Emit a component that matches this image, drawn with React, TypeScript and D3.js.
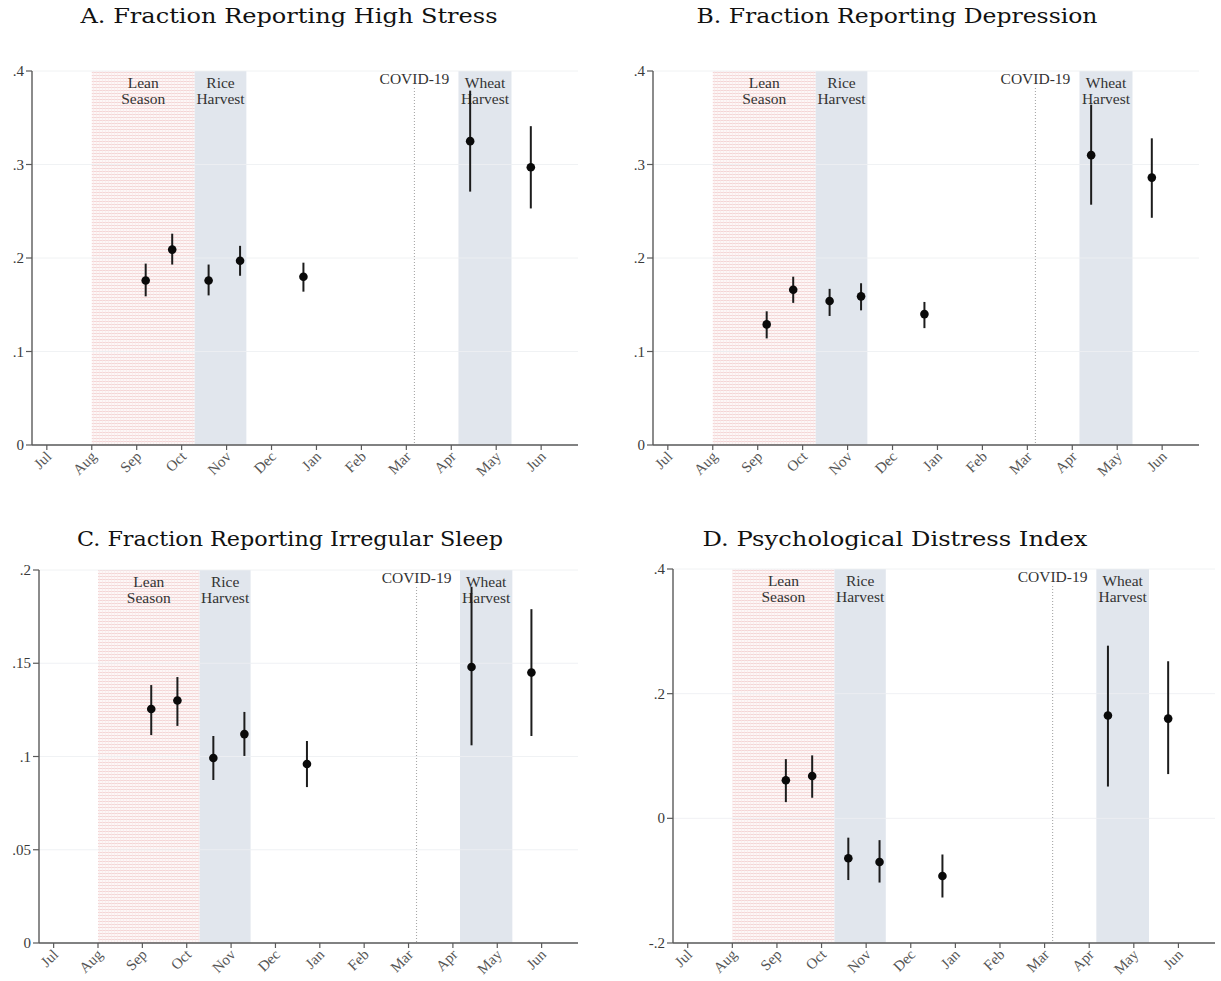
import React from "react";
import * as d3 from "d3";

// Month axis: 0 = Jul ... 11 = Jun
const monthLabels = ["Jul", "Aug", "Sep", "Oct", "Nov", "Dec", "Jan", "Feb", "Mar", "Apr", "May", "Jun"];

// Survey round dates in month units
const roundMonths = [2.2, 2.79, 3.6, 4.3, 5.71, 9.42, 10.77];

// Seasonal windows and event date (month units)
const leanSeason = [1.0, 3.29];
const riceHarvest = [3.29, 4.44];
const wheatHarvest = [9.16, 10.34];
const covidDate = 8.18;

// Panel A: high stress
const stressEst = [0.176, 0.209, 0.176, 0.197, 0.18, 0.325, 0.297];
const stressLo = [0.159, 0.193, 0.16, 0.181, 0.164, 0.271, 0.253];
const stressHi = [0.194, 0.226, 0.193, 0.213, 0.195, 0.379, 0.341];

// Panel B: depression
const deprEst = [0.129, 0.166, 0.154, 0.159, 0.14, 0.31, 0.286];
const deprLo = [0.114, 0.152, 0.138, 0.144, 0.125, 0.257, 0.243];
const deprHi = [0.143, 0.18, 0.167, 0.173, 0.153, 0.364, 0.328];

// Panel C: irregular sleep
const sleepEst = [0.1255, 0.13, 0.0992, 0.112, 0.096, 0.148, 0.145];
const sleepLo = [0.1115, 0.1164, 0.0874, 0.1003, 0.0836, 0.106, 0.111];
const sleepHi = [0.1383, 0.1426, 0.111, 0.1239, 0.1083, 0.191, 0.179];

// Panel D: distress index
const distressEst = [0.061, 0.068, -0.064, -0.07, -0.0925, 0.165, 0.16];
const distressLo = [0.026, 0.033, -0.099, -0.103, -0.127, 0.051, 0.071];
const distressHi = [0.095, 0.101, -0.031, -0.035, -0.058, 0.277, 0.252];

const ticksAB = [0, 0.1, 0.2, 0.3, 0.4];
const ticksC = [0, 0.05, 0.1, 0.15, 0.2];
const ticksD = [-0.2, 0, 0.2, 0.4];

const stataFmt = (v: number) => {
  if (Math.abs(v) < 1e-9) return "0";
  const s = String(+v.toFixed(3));
  return s.replace(/^0\./, ".").replace(/^-0\./, "-.");
};

type PanelSpec = {
  id: string;
  title: string;
  titleX: number;
  titleY: number;
  titleW: number;
  left: number;
  right: number;
  top: number;
  bottom: number;
  yDomain: [number, number];
  yTicks: number[];
  est: number[];
  lo: number[];
  hi: number[];
};

const panels: PanelSpec[] = [
  {
    id: "a", title: "A. Fraction Reporting High Stress", titleX: 289, titleY: 23, titleW: 417,
    left: 32, right: 578, top: 71, bottom: 445, yDomain: [0, 0.4], yTicks: ticksAB,
    est: stressEst, lo: stressLo, hi: stressHi,
  },
  {
    id: "b", title: "B. Fraction Reporting Depression", titleX: 897, titleY: 23, titleW: 401,
    left: 653, right: 1199, top: 71, bottom: 445, yDomain: [0, 0.4], yTicks: ticksAB,
    est: deprEst, lo: deprLo, hi: deprHi,
  },
  {
    id: "c", title: "C. Fraction Reporting Irregular Sleep", titleX: 290, titleY: 546, titleW: 426,
    left: 39, right: 578, top: 570, bottom: 943, yDomain: [0, 0.2], yTicks: ticksC,
    est: sleepEst, lo: sleepLo, hi: sleepHi,
  },
  {
    id: "d", title: "D. Psychological Distress Index", titleX: 895, titleY: 546, titleW: 385,
    left: 673, right: 1215, top: 569, bottom: 943, yDomain: [-0.2, 0.4], yTicks: ticksD,
    est: distressEst, lo: distressLo, hi: distressHi,
  },
];

const TITLE_FONT = "'DejaVu Serif', 'Liberation Serif', serif";
const SERIF = "'Liberation Serif', 'DejaVu Serif', serif";

function Panel({ p }: { p: PanelSpec }) {
  const x = d3.scaleLinear().domain([-0.33, 11.82]).range([p.left, p.right]);
  const y = d3.scaleLinear().domain(p.yDomain).range([p.bottom, p.top]);
  const yTop = y(p.yDomain[1]);
  const yBot = y(p.yDomain[0]);
  const h = yBot - yTop;
  const axisCol = "#5a5a5a";
  const labelCol = "#3a3a3a";
  const annY1 = yTop + 11;
  const annY2 = yTop + 27;
  const annSize = 15.5;

  return (
    <g>
      <text
        x={p.titleX}
        y={p.titleY}
        textAnchor="middle"
        fontFamily={TITLE_FONT}
        fontSize={20}
        fill="#111"
        textLength={p.titleW}
        lengthAdjust="spacingAndGlyphs"
      >
        {p.title}
      </text>

      {/* seasonal shading */}
      <rect x={x(leanSeason[0])} y={yTop} width={x(leanSeason[1]) - x(leanSeason[0])} height={h} fill="url(#leanPattern)" />
      <rect x={x(riceHarvest[0])} y={yTop} width={x(riceHarvest[1]) - x(riceHarvest[0])} height={h} fill="#e1e6ed" />
      <rect x={x(wheatHarvest[0])} y={yTop} width={x(wheatHarvest[1]) - x(wheatHarvest[0])} height={h} fill="#e1e6ed" />

      {/* horizontal gridlines */}
      {p.yTicks.map((t) => (
        <line key={"g" + t} x1={p.left} x2={p.right} y1={y(t)} y2={y(t)} stroke="#eef0f3" strokeWidth={1} opacity={0.85} />
      ))}

      {/* COVID-19 marker */}
      <line x1={x(covidDate)} x2={x(covidDate)} y1={yTop + 17} y2={yBot} stroke="#a8a8a8" strokeWidth={1.1} strokeDasharray="1,2" />
      <text x={x(covidDate)} y={annY1 - 4} textAnchor="middle" dominantBaseline="central" fontFamily={SERIF} fontSize={annSize} fill="#333">
        COVID-19
      </text>

      {/* period annotations */}
      {[
        { c: (x(leanSeason[0]) + x(leanSeason[1])) / 2, l: ["Lean", "Season"] },
        { c: (x(riceHarvest[0]) + x(riceHarvest[1])) / 2, l: ["Rice", "Harvest"] },
        { c: (x(wheatHarvest[0]) + x(wheatHarvest[1])) / 2, l: ["Wheat", "Harvest"] },
      ].map((a, i) => (
        <g key={"ann" + i}>
          <text x={a.c} y={annY1} textAnchor="middle" dominantBaseline="central" fontFamily={SERIF} fontSize={annSize} fill="#333">
            {a.l[0]}
          </text>
          <text x={a.c} y={annY2} textAnchor="middle" dominantBaseline="central" fontFamily={SERIF} fontSize={annSize} fill="#333">
            {a.l[1]}
          </text>
        </g>
      ))}

      {/* axes */}
      <line x1={p.left} x2={p.left} y1={yTop} y2={yBot} stroke={axisCol} strokeWidth={1.4} />
      <line x1={p.left} x2={p.right} y1={yBot} y2={yBot} stroke={axisCol} strokeWidth={1.4} />
      {p.yTicks.map((t) => (
        <g key={"yt" + t}>
          <line x1={p.left - 6} x2={p.left} y1={y(t)} y2={y(t)} stroke={axisCol} strokeWidth={1.2} />
          <text x={p.left - 8} y={y(t)} textAnchor="end" dominantBaseline="central" fontFamily={SERIF} fontSize={15} fill={labelCol}>
            {stataFmt(t)}
          </text>
        </g>
      ))}
      {monthLabels.map((m, i) => {
        const tx = x(i);
        return (
          <g key={"xt" + m}>
            <line x1={tx} x2={tx} y1={yBot} y2={yBot + 5} stroke={axisCol} strokeWidth={1.2} />
            <text
              transform={`translate(${tx + 2},${yBot + 9}) rotate(-45)`}
              textAnchor="end"
              dominantBaseline="central"
              fontFamily={SERIF}
              fontSize={15}
              fill="#555"
            >
              {m}
            </text>
          </g>
        );
      })}

      {/* estimates with confidence intervals */}
      {roundMonths.map((mo, i) => (
        <g key={"pt" + i}>
          <line x1={x(mo)} x2={x(mo)} y1={y(p.lo[i])} y2={y(p.hi[i])} stroke="#1c1c1c" strokeWidth={2} />
          <circle cx={x(mo)} cy={y(p.est[i])} r={4.3} fill="#0a0a0a" />
        </g>
      ))}
    </g>
  );
}

export default function App() {
  return (
    <svg
      width={1221}
      height={981}
      viewBox="0 0 1221 981"
      style={{ position: "absolute", left: 0, top: 0, background: "#fff" }}
    >
      <defs>
        <pattern id="leanPattern" width={3} height={3} patternUnits="userSpaceOnUse">
          <rect width={3} height={3} fill="#fdf7f7" />
          <line x1={0} x2={3} y1={0.5} y2={0.5} stroke="#f4d6d6" strokeWidth={1} />
          <line x1={0.5} x2={0.5} y1={0} y2={3} stroke="#f9e8e8" strokeWidth={0.6} />
        </pattern>
      </defs>
      <rect width={1221} height={981} fill="#fff" />
      {panels.map((p) => (
        <Panel key={p.id} p={p} />
      ))}
    </svg>
  );
}
